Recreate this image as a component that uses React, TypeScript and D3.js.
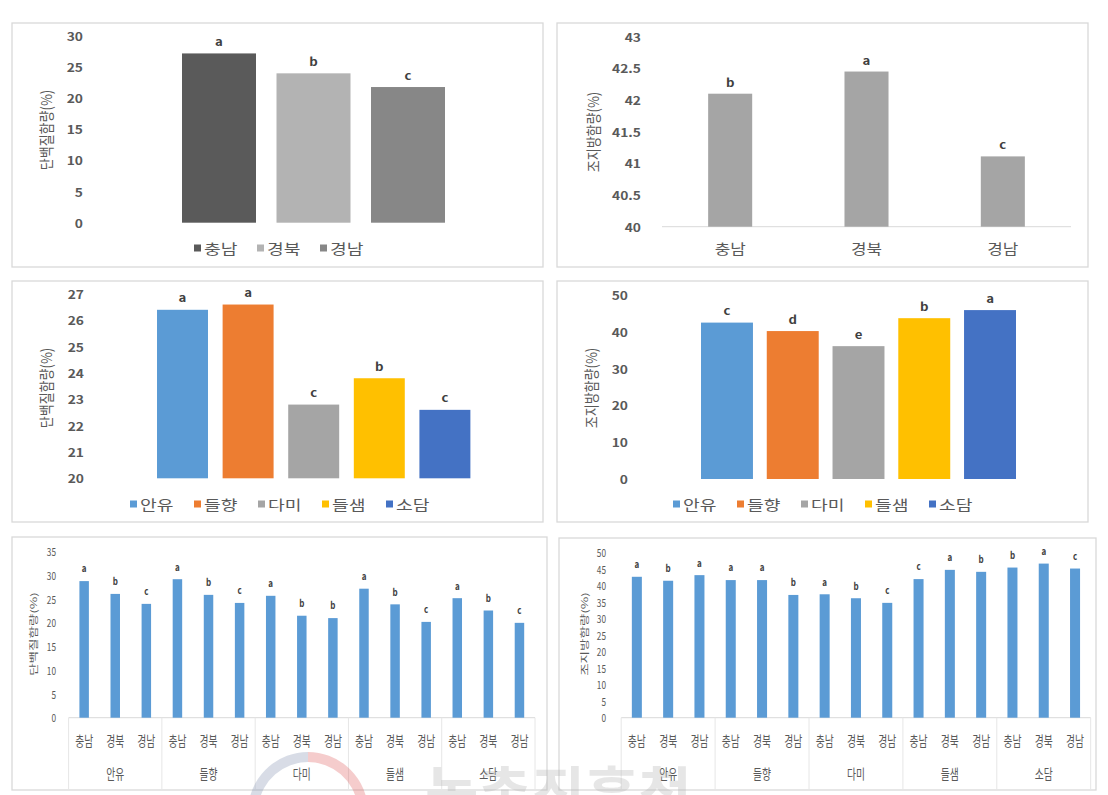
import React from 'react';
import * as d3 from 'd3';

const regions = ['충남', '경북', '경남'];
const varieties = ['안유', '들향', '다미', '들샘', '소담'];

const proteinRegion = [27.2, 24.0, 21.8];
const proteinRegionLetters = ['a', 'b', 'c'];
const fatRegion = [42.1, 42.45, 41.11];
const fatRegionLetters = ['b', 'a', 'c'];
const proteinVariety = [26.4, 26.6, 22.8, 23.8, 22.6];
const proteinVarietyLetters = ['a', 'a', 'c', 'b', 'c'];
const fatVariety = [42.5, 40.2, 36.1, 43.7, 45.9];
const fatVarietyLetters = ['c', 'd', 'e', 'b', 'a'];
const proteinVR = [28.8, 26.1, 24.0, 29.2, 25.9, 24.2, 25.7, 21.5, 21.0, 27.2, 23.9, 20.2, 25.2, 22.6, 20.0];
const proteinVRLetters = ['a', 'b', 'c', 'a', 'b', 'c', 'a', 'b', 'b', 'a', 'b', 'c', 'a', 'b', 'c'];
const fatVR = [42.7, 41.5, 43.2, 41.7, 41.7, 37.2, 37.4, 36.2, 34.8, 42.0, 44.8, 44.2, 45.5, 46.7, 45.2];
const fatVRLetters = ['a', 'b', 'a', 'a', 'a', 'b', 'a', 'b', 'c', 'c', 'a', 'b', 'b', 'a', 'c'];

const ticks1 = [0, 5, 10, 15, 20, 25, 30];
const ticks2 = [40, 40.5, 41, 41.5, 42, 42.5, 43];
const ticks3 = [20, 21, 22, 23, 24, 25, 26, 27];
const ticks4 = [0, 10, 20, 30, 40, 50];
const ticks5 = [0, 5, 10, 15, 20, 25, 30, 35];
const ticks6 = [0, 5, 10, 15, 20, 25, 30, 35, 40, 45, 50];

const regionColors = ['#5a5a5a', '#b3b3b3', '#878787'];
const varietyColors = ['#5B9BD5', '#ED7D31', '#A5A5A5', '#FFC000', '#4472C4'];
const singleGray = '#A5A5A5';
const singleBlue = '#5B9BD5';

const vrCats = varieties.flatMap((v) => regions.map((r) => `${v}|${r}`));

const FONT = '"Noto Sans CJK KR", "Noto Sans", sans-serif';
const TXT = '#595959';

function T({ x, y, sx = 1, rot = 0, size, weight = 'normal', fill = TXT, anchor = 'middle', children }: any) {
  return (
    <text
      transform={`translate(${x},${y}) scale(${sx},1)${rot ? ` rotate(${rot})` : ''}`}
      fontSize={size}
      fontWeight={weight}
      fill={fill}
      textAnchor={anchor}
      dominantBaseline="central"
      fontFamily={FONT}
    >
      {children}
    </text>
  );
}

function Panel(p: any) {
  const y = d3.scaleLinear().domain(p.yDomain).range(p.yRange);
  const x = d3.scaleBand<string>().domain(p.cats).range(p.xRange).paddingInner(p.pad).paddingOuter(p.pad / 2);
  const y0 = y(p.yDomain[0]);
  const [fx0, fy0, fx1, fy1] = p.frame;
  return (
    <g>
      <rect x={fx0} y={fy0} width={fx1 - fx0} height={fy1 - fy0} fill="#fff" stroke="#d9d9d9" strokeWidth={1.3} />
      {p.ticks.map((t: number) => (
        <T key={t} x={p.tickX} y={y(t)} sx={p.tickSx} size={p.tickSize} weight={p.tickWeight} anchor="end">
          {String(t)}
        </T>
      ))}
      <T x={p.titleX} y={p.titleY} sx={p.titleSx} rot={-90} size={p.titleSize}>
        {p.title}
      </T>
      {p.baseline && <line x1={p.xRange[0]} x2={p.xRange[1]} y1={y0} y2={y0} stroke="#d9d9d9" strokeWidth={1} />}
      {p.cats.map((c: string, i: number) => (
        <rect key={c} x={x(c)} y={y(p.values[i])} width={x.bandwidth()} height={y0 - y(p.values[i])} fill={p.colors[i % p.colors.length]} />
      ))}
      {p.cats.map((c: string, i: number) => (
        <T key={'l' + c} x={(x(c) as number) + x.bandwidth() / 2} y={y(p.values[i]) - p.letterGap} sx={p.letterSx} size={p.letterSize} weight="bold" fill="#404040">
          {p.letters[i]}
        </T>
      ))}
      {p.catLabels &&
        p.cats.map((c: string, i: number) => (
          <T key={'c' + c} x={(x(c) as number) + x.bandwidth() / 2} y={p.catLabels.y} sx={p.catLabels.sx} size={p.catLabels.size}>
            {p.catLabels.labels[i]}
          </T>
        ))}
      {p.groups && (
        <g>
          {d3.range(p.groups.labels.length + 1).map((k) => {
            const gx = p.xRange[0] + k * 3 * x.step();
            return <line key={'s' + k} x1={gx} x2={gx} y1={y0} y2={fy1} stroke="#e6e6e6" strokeWidth={1} />;
          })}
          {p.groups.labels.map((g: string, k: number) => (
            <T key={'g' + g} x={(x(p.cats[k * 3 + 1]) as number) + x.bandwidth() / 2} y={p.groups.y} sx={p.groups.sx} size={p.groups.size}>
              {g}
            </T>
          ))}
        </g>
      )}
      {p.legend &&
        p.legend.items.map((it: string, i: number) => {
          const lx = p.legend.x + i * p.legend.step;
          return (
            <g key={'lg' + it}>
              <rect x={lx} y={p.legend.y - 3.5} width={7} height={7} fill={p.legend.colors[i]} />
              <T x={lx + 10} y={p.legend.y} sx={p.legend.sx} size={p.legend.size} anchor="start">
                {it}
              </T>
            </g>
          );
        })}
    </g>
  );
}

const topText = { tickSize: 11.5, tickWeight: 'bold', tickSx: 1.2, titleSize: 13, titleSx: 1.15, letterSize: 11, letterSx: 1.2, letterGap: 12 };
const botText = { tickSize: 11, tickWeight: 'normal', tickSx: 0.75, titleSize: 13.5, titleSx: 0.65, letterSize: 10, letterSx: 0.8, letterGap: 12.5 };

export default function App() {
  return (
    <svg width={1108} height={795} style={{ position: 'absolute', left: 0, top: 0, background: '#fff' }}>
      <rect x={0} y={0} width={1108} height={795} fill="#fff" />
      <Panel
        {...topText}
        frame={[12, 23, 543, 267]}
        yDomain={[0, 30]}
        yRange={[222.7, 36]}
        ticks={ticks1}
        tickX={83}
        xRange={[171.75, 455.25]}
        pad={0.217}
        cats={regions}
        values={proteinRegion}
        letters={proteinRegionLetters}
        colors={regionColors}
        title="단백질함량(%)"
        titleX={46}
        titleY={130}
        legend={{ items: regions, colors: regionColors, x: 194, step: 63, y: 248, size: 14, sx: 1.3 }}
      />
      <Panel
        {...topText}
        frame={[557, 23, 1088, 267]}
        yDomain={[40, 43]}
        yRange={[226.7, 36.7]}
        ticks={ticks2}
        tickX={641}
        xRange={[662, 1071]}
        pad={0.677}
        cats={regions}
        values={fatRegion}
        letters={fatRegionLetters}
        colors={[singleGray]}
        title="조지방함량(%)"
        titleX={593}
        titleY={132}
        baseline
        catLabels={{ labels: regions, y: 248, size: 13.5, sx: 1.25 }}
      />
      <Panel
        {...topText}
        letterGap={12.5}
        frame={[12, 281, 543, 522]}
        yDomain={[20, 27]}
        yRange={[478.3, 294]}
        ticks={ticks3}
        tickX={84}
        xRange={[149.7, 477.7]}
        pad={0.223}
        cats={varieties}
        values={proteinVariety}
        letters={proteinVarietyLetters}
        colors={varietyColors}
        title="단백질함량(%)"
        titleX={46}
        titleY={388}
        legend={{ items: varieties, colors: varietyColors, x: 130, step: 64, y: 504, size: 14, sx: 1.3 }}
      />
      <Panel
        {...topText}
        letterGap={12.5}
        frame={[557, 281, 1088, 522]}
        yDomain={[0, 50]}
        yRange={[479, 295]}
        ticks={ticks4}
        tickX={628}
        xRange={[694.1, 1022.9]}
        pad={0.21}
        cats={varieties}
        values={fatVariety}
        letters={fatVarietyLetters}
        colors={varietyColors}
        title="조지방함량(%)"
        titleX={591}
        titleY={388}
        legend={{ items: varieties, colors: varietyColors, x: 673, step: 64, y: 504, size: 14, sx: 1.3 }}
      />
      <Panel
        {...botText}
        frame={[12, 537, 547, 790]}
        yDomain={[0, 35]}
        yRange={[717.7, 551.7]}
        ticks={ticks5}
        tickX={56}
        xRange={[68.6, 535]}
        pad={0.695}
        cats={vrCats}
        values={proteinVR}
        letters={proteinVRLetters}
        colors={[singleBlue]}
        title="단백질함량(%)"
        titleX={33}
        titleY={634}
        baseline
        catLabels={{ labels: vrCats.map((c) => c.split('|')[1]), y: 740, size: 14, sx: 0.7 }}
        groups={{ labels: varieties, y: 773, size: 14, sx: 0.7 }}
      />
      <Panel
        {...botText}
        frame={[559, 538, 1096, 790]}
        yDomain={[0, 50]}
        yRange={[717.7, 552.7]}
        ticks={ticks6}
        tickX={606}
        xRange={[621.2, 1090.7]}
        pad={0.68}
        cats={vrCats}
        values={fatVR}
        letters={fatVRLetters}
        colors={[singleBlue]}
        title="조지방함량(%)"
        titleX={584.5}
        titleY={634}
        baseline
        catLabels={{ labels: vrCats.map((c) => c.split('|')[1]), y: 740, size: 14, sx: 0.7 }}
        groups={{ labels: varieties, y: 773, size: 14, sx: 0.7 }}
      />
      <g opacity={0.3} pointerEvents="none">
        <path d={d3.arc()({ innerRadius: 50, outerRadius: 60, startAngle: -Math.PI / 2.2, endAngle: 0 }) as string} transform="translate(308,812)" fill="#7f8fb0" />
        <path d={d3.arc()({ innerRadius: 50, outerRadius: 60, startAngle: 0, endAngle: Math.PI / 2.2 }) as string} transform="translate(308,812)" fill="#e05a5a" />
        <text x={425} y={815} fontSize={58} fontWeight="bold" fill="#b0b0b0" fontFamily={FONT}>
          농촌진흥청
        </text>
      </g>
    </svg>
  );
}
